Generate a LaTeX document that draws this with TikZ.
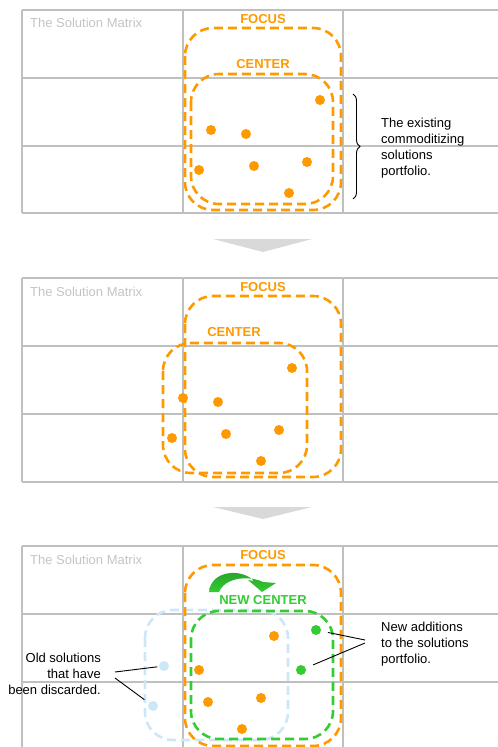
\documentclass[tikz,border=0pt]{standalone}
\usepackage{fontspec}
\setmainfont{Liberation Sans}
\usetikzlibrary{decorations.pathreplacing}
\definecolor{orng}{HTML}{FF9900}
\definecolor{grn}{HTML}{33CC33}
\definecolor{dgrn}{HTML}{2A9A2A}
\definecolor{lblue}{HTML}{CCE8F8}
\definecolor{gridgray}{HTML}{C0C0C0}
\definecolor{titlegray}{HTML}{C4C4C4}
\definecolor{arrowgray}{HTML}{D9D9D9}
\begin{document}
\begin{tikzpicture}[x=1pt,y=-1pt,
  gridline/.style={draw=gridgray,line width=1.5pt},
  dashbox/.style={line width=2.6pt,dash pattern=on 9pt off 5pt,rounded corners=28pt},
  focusbox/.style={dashbox,draw=orng},
  greenbox/.style={dashbox,draw=grn},
  oldbox/.style={dashbox,draw=lblue},
  dotbase/.style={circle,inner sep=0pt,minimum size=10pt},
  odot/.style={dotbase,fill=orng},
  gdot/.style={dotbase,fill=grn},
  bdot/.style={dotbase,fill=lblue},
  txt/.style={font=\fontsize{13}{16}\selectfont,inner sep=0pt},
  lbl/.style={txt,font=\fontsize{13}{16}\selectfont\bfseries},
  mtitle/.style={txt,text=titlegray,anchor=west},
  callout/.style={draw=black,line width=0.9pt},
  downarrow/.style={fill=arrowgray,draw=none}
]
\useasboundingbox (0,0) rectangle (498,747);

% ---------------- Panel 1 ----------------
\foreach \y in {10,78,146,213} \draw[gridline] (22,\y) -- (498,\y);
\foreach \x in {22,183,343} \draw[gridline] (\x,10) -- (\x,213);
\node[mtitle] (t1) at (30,23) {The Solution Matrix};
\draw[focusbox] (185,28) rectangle (341,210);
\draw[focusbox] (191,74) rectangle (333,204);
\node[lbl,text=orng] (f1) at (263,19) {FOCUS};
\node[lbl,text=orng] (c1) at (263,64) {CENTER};
\node[odot] (a1) at (320,100) {};
\node[odot] (a2) at (211,130) {};
\node[odot] (a3) at (246,134) {};
\node[odot] (a4) at (199,170) {};
\node[odot] (a5) at (254,166) {};
\node[odot] (a6) at (307,162) {};
\node[odot] (a7) at (289,193) {};
\draw[decorate,decoration={brace,amplitude=7pt},line width=0.9pt] (353,94) -- (353,199);
\node[txt,anchor=north west,align=left] (exist) at (381,118) {The existing\\commoditizing\\solutions\\portfolio.};

% arrow 1
\path[downarrow] (213,239) -- (312,239) -- (263,252) -- cycle;

% ---------------- Panel 2 ----------------
\foreach \y in {278,346,414,482} \draw[gridline] (22,\y) -- (498,\y);
\foreach \x in {22,183,343} \draw[gridline] (\x,278) -- (\x,482);
\node[mtitle] (t2) at (30,292) {The Solution Matrix};
\draw[focusbox] (185,296) rectangle (341,477);
\draw[focusbox] (163,343) rectangle (307,473);
\node[lbl,text=orng] (f2) at (263,287) {FOCUS};
\node[lbl,text=orng] (c2) at (234,332) {CENTER};
\node[odot] (b1) at (292,368) {};
\node[odot] (b2) at (183,398) {};
\node[odot] (b3) at (218,402) {};
\node[odot] (b4) at (172,438) {};
\node[odot] (b5) at (226,434) {};
\node[odot] (b6) at (279,430) {};
\node[odot] (b7) at (261,461) {};

% arrow 2
\path[downarrow] (213,507) -- (312,507) -- (263,519) -- cycle;

% ---------------- Panel 3 ----------------
\foreach \y in {546,614,682} \draw[gridline] (22,\y) -- (498,\y);
\foreach \x in {22,183,343} \draw[gridline] (\x,546) -- (\x,747);
\node[mtitle] (t3) at (30,560) {The Solution Matrix};
\draw[oldbox] (145,610) rectangle (288,740);
\draw[focusbox] (185,565) rectangle (341,746);
\draw[greenbox] (191,611) rectangle (333,739);
\node[lbl,text=orng] (f3) at (263,555) {FOCUS};
\node[lbl,text=grn] (c3) at (263,600) {NEW CENTER};
% curved green arrow
\path[left color=dgrn,right color=grn,shading angle=0]
  (209,592) .. controls (211,570) and (242,568) .. (254,581)
  -- (248,580) -- (262,592) -- (276,583) -- (263,582)
  .. controls (251,576) and (226,576) .. (219,592) -- cycle;
\node[odot] (d1) at (274,636) {};
\node[odot] (d2) at (199,670) {};
\node[odot] (d3) at (208,702) {};
\node[odot] (d4) at (261,698) {};
\node[odot] (d5) at (242,729) {};
\node[gdot] (g1) at (316,630) {};
\node[gdot] (g2) at (301,670) {};
\node[bdot] (o1) at (164,666) {};
\node[bdot] (o2) at (153,706) {};

\node[txt,anchor=north west,align=left] (newadd) at (381,622) {New additions\\to the solutions\\portfolio.};
\node[txt,anchor=north east,align=right] (olds) at (101,653) {Old solutions\\that have\\been discarded.};

\coordinate (n1) at (365,640);
\coordinate (n2) at (365,643);
\coordinate (m1) at (115,672);
\coordinate (m2) at (115,678);
\draw[callout,shorten >=7pt] (n1) -- (g1);
\draw[callout,shorten >=8pt] (n2) -- (g2);
\draw[callout,shorten >=1.5pt] (m1) -- (o1);
\draw[callout,shorten >=5.5pt] (m2) -- (o2);
\end{tikzpicture}
\end{document}
